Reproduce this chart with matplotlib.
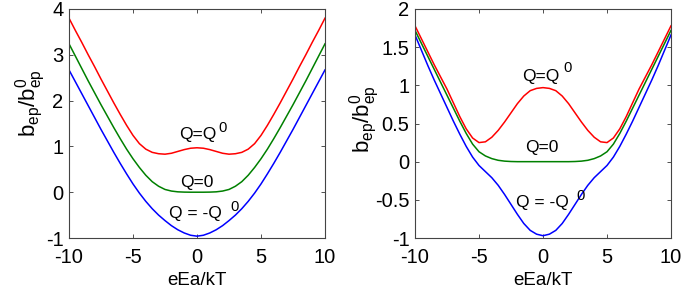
import matplotlib
matplotlib.use("Agg")
import matplotlib.pyplot as plt
from matplotlib.ticker import FuncFormatter

plt.rcParams['font.family'] = ['Liberation Sans', 'DejaVu Sans']
plt.rcParams['mathtext.fontset'] = 'custom'
plt.rcParams['mathtext.rm'] = 'Liberation Sans'
plt.rcParams['mathtext.it'] = 'Liberation Sans'
plt.rcParams['axes.unicode_minus'] = False

# ---- data ----
x_vals = [-10, -9.5, -9, -8.5, -8, -7.5, -7, -6.5, -6, -5.5, -5, -4.5, -4, -3.5, -3, -2.5, -2, -1.5, -1, -0.5,
          0, 0.5, 1, 1.5, 2, 2.5, 3, 3.5, 4, 4.5, 5, 5.5, 6, 6.5, 7, 7.5, 8, 8.5, 9, 9.5, 10]

# left panel
left_red = [3.80, 3.53, 3.27, 3.00, 2.74, 2.47, 2.21, 1.95, 1.70, 1.46, 1.24, 1.06, 0.94, 0.87, 0.84, 0.83, 0.85, 0.89, 0.93, 0.96,
            0.97, 0.96, 0.93, 0.89, 0.85, 0.83, 0.84, 0.87, 0.94, 1.06, 1.24, 1.46, 1.70, 1.95, 2.21, 2.47, 2.74, 3.00, 3.27, 3.53, 3.80]
left_green = [3.24, 2.97, 2.70, 2.43, 2.17, 1.91, 1.66, 1.41, 1.17, 0.94, 0.73, 0.54, 0.37, 0.23, 0.13, 0.06, 0.025, 0.008, 0.002, 0.0,
              0.0, 0.0, 0.002, 0.008, 0.025, 0.06, 0.13, 0.23, 0.37, 0.54, 0.73, 0.94, 1.17, 1.41, 1.66, 1.91, 2.17, 2.43, 2.70, 2.97, 3.24]
left_blue = [2.67, 2.41, 2.15, 1.89, 1.63, 1.37, 1.12, 0.87, 0.63, 0.40, 0.18, -0.02, -0.20, -0.36, -0.50, -0.62, -0.73, -0.82, -0.89, -0.94,
             -0.96, -0.94, -0.89, -0.82, -0.73, -0.62, -0.50, -0.36, -0.20, -0.02, 0.18, 0.40, 0.63, 0.87, 1.12, 1.37, 1.63, 1.89, 2.15, 2.41, 2.67]

# right panel
right_red = [1.78, 1.61, 1.44, 1.27, 1.11, 0.95, 0.77, 0.59, 0.43, 0.31, 0.25, 0.26, 0.32, 0.41, 0.52, 0.64, 0.76, 0.86, 0.93, 0.96,
             0.97, 0.96, 0.93, 0.86, 0.76, 0.64, 0.52, 0.41, 0.32, 0.26, 0.25, 0.31, 0.43, 0.59, 0.77, 0.95, 1.11, 1.27, 1.44, 1.61, 1.78]
right_green = [1.72, 1.55, 1.38, 1.21, 1.04, 0.87, 0.70, 0.53, 0.37, 0.23, 0.13, 0.075, 0.04, 0.018, 0.007, 0.002, 0.0, 0.0, 0.0, 0.0,
               0.0, 0.0, 0.0, 0.0, 0.0, 0.002, 0.007, 0.018, 0.04, 0.075, 0.13, 0.23, 0.37, 0.53, 0.70, 0.87, 1.04, 1.21, 1.38, 1.55, 1.72]
right_blue = [1.66, 1.46, 1.26, 1.07, 0.89, 0.71, 0.53, 0.36, 0.20, 0.06, -0.05, -0.13, -0.21, -0.31, -0.43, -0.56, -0.69, -0.81, -0.90, -0.95,
              -0.97, -0.95, -0.90, -0.81, -0.69, -0.56, -0.43, -0.31, -0.21, -0.13, -0.05, 0.06, 0.20, 0.36, 0.53, 0.71, 0.89, 1.07, 1.26, 1.46, 1.66]

x_ticks = [-10, -5, 0, 5, 10]
left_yticks = [-1, 0, 1, 2, 3, 4]
right_yticks = [-1, -0.5, 0, 0.5, 1, 1.5, 2]

fig = plt.figure(figsize=(6.92, 2.88), dpi=100)
axL = fig.add_axes([69/692, 50/288, 256/692, 229/288])
axR = fig.add_axes([415/692, 50/288, 256/692, 229/288])

fmt = FuncFormatter(lambda v, p: ('%g' % v))
lw = 1.1
tfs = 14.5
afs = 12.5
for ax, r, g, b, yt in [(axL, left_red, left_green, left_blue, left_yticks),
                        (axR, right_red, right_green, right_blue, right_yticks)]:
    ax.plot(x_vals, r, color='#ff0000', lw=lw)
    ax.plot(x_vals, g, color='#008000', lw=lw)
    ax.plot(x_vals, b, color='#0000ff', lw=lw)
    ax.set_xlim(-10, 10)
    ax.set_ylim(yt[0], yt[-1])
    ax.set_xticks(x_ticks)
    ax.set_yticks(yt)
    ax.xaxis.set_major_formatter(fmt)
    ax.yaxis.set_major_formatter(fmt)
    ax.tick_params(direction='in', top=True, right=True, length=3, width=0.6,
                   labelsize=tfs, color='#333333')
    ax.tick_params(axis='x', pad=7)
    ax.tick_params(axis='y', pad=4)
    for s in ax.spines.values():
        s.set_color('#444444')
        s.set_linewidth(0.8)
    ax.set_xlabel('eEa/kT', fontsize=13.5, labelpad=4)
    ax.set_ylabel(r'b$_{\rm ep}$/b$^{0}_{\rm ep}$', fontsize=16)

axL.yaxis.set_label_coords(-0.082, 0.59)
axR.yaxis.set_label_coords(-0.128, 0.52)

# annotations left
axL.text(0.08, 1.25, 'Q=Q', fontsize=afs, ha='center', va='center')
axL.text(2.0, 1.40, '0', fontsize=afs * 0.85, ha='center', va='center')
axL.text(0.0, 0.22, 'Q=0', fontsize=afs, ha='center', va='center')
axL.text(-0.1, -0.46, 'Q = -Q', fontsize=afs, ha='center', va='center')
axL.text(2.9, -0.32, '0', fontsize=afs * 0.85, ha='center', va='center')

# annotations right
axR.text(-0.16, 1.11, 'Q=Q', fontsize=afs, ha='center', va='center')
axR.text(1.95, 1.23, '0', fontsize=afs * 0.85, ha='center', va='center')
axR.text(-0.08, 0.18, 'Q=0', fontsize=afs, ha='center', va='center')
axR.text(-0.05, -0.53, 'Q = -Q', fontsize=afs, ha='center', va='center')
axR.text(2.97, -0.45, '0', fontsize=afs * 0.85, ha='center', va='center')

fig.savefig('out.png', dpi=100)
